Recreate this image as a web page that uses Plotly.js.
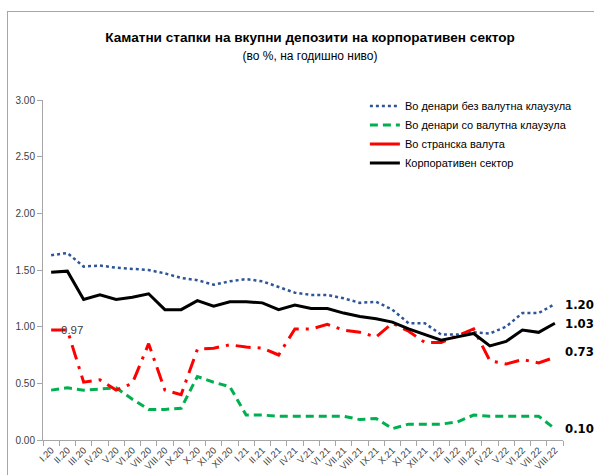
<!DOCTYPE html>
<html><head><meta charset="utf-8">
<script src="https://cdn.plot.ly/plotly-3.0.1.min.js"></script>
<style>
body{margin:0;overflow:hidden;background:#fff;}
#wrap{position:relative;width:594px;height:475px;}
#frame{position:absolute;left:7px;top:11px;right:0;bottom:0;border-left:1px solid #a6a6a6;border-top:1px solid #a6a6a6;pointer-events:none;}
</style>
</head><body>
<div id="wrap"><div id="chart" style="width:594px;height:475px"></div><div id="frame"></div></div>
<script>
const months = ["I.20","II.20","III.20","IV.20","V.20","VI.20","VII.20","VIII.20","IX.20","X.20","XI.20","XII.20",
  "I.21","II.21","III.21","IV.21","V.21","VI.21","VII.21","VIII.21","IX.21","X.21","XI.21","XII.21",
  "I.22","II.22","III.22","IV.22","V.22","VI.22","VII.22","VIII.22"];
const denariBez = [1.63,1.65,1.53,1.54,1.52,1.51,1.50,1.47,1.43,1.41,1.37,1.40,1.42,1.40,1.35,1.30,1.28,1.28,1.25,1.21,1.22,1.15,1.03,1.03,0.93,0.93,0.95,0.94,1.00,1.12,1.12,1.20];
const denariSo = [0.44,0.46,0.44,0.45,0.46,0.36,0.27,0.27,0.28,0.56,0.51,0.47,0.22,0.22,0.21,0.21,0.21,0.21,0.21,0.18,0.19,0.10,0.14,0.14,0.14,0.16,0.22,0.21,0.21,0.21,0.21,0.10];
const stranska = [0.97,0.97,0.51,0.53,0.44,0.50,0.85,0.44,0.40,0.80,0.81,0.84,0.82,0.81,0.75,0.98,0.98,1.02,0.97,0.95,0.91,1.03,0.96,0.86,0.86,0.92,0.98,0.70,0.67,0.71,0.68,0.73];
const korporativen = [1.48,1.49,1.24,1.28,1.24,1.26,1.29,1.15,1.15,1.23,1.18,1.22,1.22,1.21,1.15,1.19,1.16,1.16,1.12,1.09,1.07,1.04,0.98,0.93,0.88,0.91,0.94,0.83,0.87,0.97,0.95,1.03];
const names = ["Во денари без валутна клаузула","Во денари со валутна клаузула","Во странска валута","Корпоративен сектор"];

const FONT = "Liberation Sans, Arial, sans-serif";
const traces = [
  {x: months, y: denariBez, name: names[0], mode: "lines", line: {color: "#2e5597", width: 2.5, dash: "dot"}},
  {x: months, y: denariSo, name: names[1], mode: "lines", line: {color: "#00b050", width: 3, dash: "8px,5px"}},
  {x: months, y: stranska, name: names[2], mode: "lines", showlegend: false, line: {color: "#ff0000", width: 3, dash: "15px,7px,3px,7px"}},
  {x: [months[0]], y: [null], name: names[2], mode: "lines", line: {color: "#ff0000", width: 3}},
  {x: months, y: korporativen, name: names[3], mode: "lines", line: {color: "#000000", width: 3}}
];
const last = months.length - 1;
const endLabels = [denariBez, korporativen, stranska, denariSo].map(s => ({
  x: 1, xref: "paper", y: s[last], yref: "y", xanchor: "left", yanchor: "middle", xshift: 0,
  text: "<b>" + s[last].toFixed(2) + "</b>", showarrow: false,
  font: {family: "DejaVu Sans Condensed, Liberation Sans, sans-serif", size: 13, color: "#000"}
}));
endLabels[2].yshift = 6;
const annotations = endLabels.concat([
  {x: months[0], y: stranska[0], xref: "x", yref: "y", xanchor: "left", yanchor: "middle", xshift: 8,
   text: stranska[0].toFixed(2), showarrow: false, font: {family: FONT, size: 11.5, color: "#404040"}}
]);
const layout = {
  width: 594, height: 475,
  margin: {l: 43, r: 31, t: 100, b: 35},
  paper_bgcolor: "rgba(0,0,0,0)", plot_bgcolor: "rgba(0,0,0,0)",
  font: {family: FONT, color: "#404040"},
  title: {text: "<b>Каматни стапки на вкупни депозити на корпоративен сектор</b><br><span style='font-size:12px'>(во %, на годишно ниво)</span>",
    x: 0.522, xanchor: "center", y: 0.911, yanchor: "top", yref: "container",
    font: {family: FONT, size: 13.6, color: "#000"}},
  xaxis: {type: "category", range: [-0.5, 31.5], tickangle: -45, tickson: "boundaries", automargin: false,
    ticks: "outside", ticklen: 5, tickcolor: "#a6a6a6", showline: true, linecolor: "#a6a6a6", linewidth: 1,
    showgrid: false, zeroline: false, tickfont: {family: FONT, size: 9.5, color: "#404040"}, fixedrange: true},
  yaxis: {range: [0, 3], dtick: 0.5, tickformat: ".2f", ticks: "outside", ticklen: 5, tickcolor: "#a6a6a6", automargin: false,
    showline: true, linecolor: "#a6a6a6", linewidth: 1, showgrid: false, zeroline: false,
    tickfont: {family: FONT, size: 10, color: "#404040"}, fixedrange: true},
  legend: {x: 0.619, y: 1.025, xanchor: "left", yanchor: "top", bgcolor: "rgba(0,0,0,0)",
    font: {family: FONT, size: 11, color: "#000"}, tracegroupgap: 0},
  annotations: annotations,
  showlegend: true
};
Plotly.newPlot("chart", traces, layout, {displayModeBar: false, staticPlot: true});
</script>
</body></html>
